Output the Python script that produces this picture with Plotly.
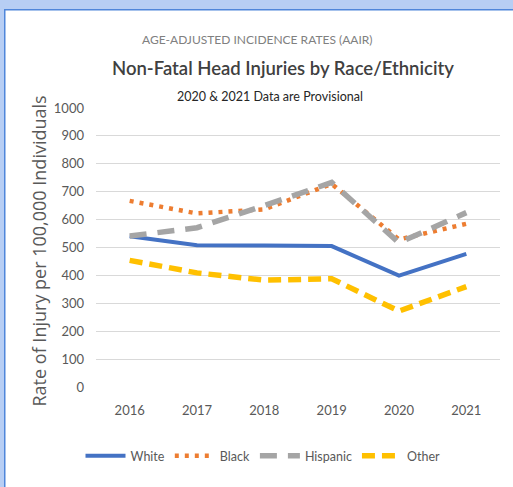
import plotly.graph_objects as go

years = ["2016", "2017", "2018", "2019", "2020", "2021"]
white = [540, 508, 507, 505, 399, 477]
black = [667, 622, 637, 728, 529, 585]
hispanic = [541, 571, 650, 733, 517, 625]
other = [454, 409, 383, 388, 272, 360]
y_ticks = [0, 100, 200, 300, 400, 500, 600, 700, 800, 900, 1000]

W, H = 513, 487
L, R, T, B = 96, 13, 108, 100
PW, PH = W - L - R, H - T - B

def px(xp):
    return (xp - L) / PW

def py(yp):
    return (H - B - yp) / PH

FONT = "Lato, Liberation Sans, sans-serif"
GRAY = "#595959"

fig = go.Figure()
fig.add_trace(go.Scatter(x=years, y=white, name="White", mode="lines",
                         line=dict(color="#4472C4", width=4)))
fig.add_trace(go.Scatter(x=years, y=black, name="Black", mode="lines",
                         line=dict(color="#ED7D31", width=4.5, dash="4px,6px")))
fig.add_trace(go.Scatter(x=years, y=hispanic, name="Hispanic", mode="lines",
                         line=dict(color="#A5A5A5", width=5.5, dash="17px,11px")))
fig.add_trace(go.Scatter(x=years, y=other, name="Other", mode="lines",
                         line=dict(color="#FFC000", width=5.5, dash="13px,7px")))

text_annotations = [
    dict(text="AGE-ADJUSTED INCIDENCE RATES (AAIR)", x=px(257.5), y=py(40),
         font=dict(family=FONT, size=12, color="#808080")),
    dict(text="Non-Fatal Head Injuries by Race/Ethnicity", x=px(283), y=py(68),
         font=dict(family=FONT, size=18.5, color="#404040", weight=600)),
    dict(text="2020 &amp; 2021 Data are Provisional", x=px(270), y=py(96),
         font=dict(family=FONT, size=12.5, color="#262626")),
    dict(text="Rate of Injury per 100,000 Individuals", x=px(38), y=py(251.5),
         textangle=-90,
         font=dict(family="Open Sans, DejaVu Sans, sans-serif", size=18, color=GRAY)),
]
for a in text_annotations:
    a.update(xref="paper", yref="paper", showarrow=False,
             xanchor="center", yanchor="middle")

BAND = "#B7CEF4"
EDGE = "#4F86DA"

shapes = [
    dict(type="rect", xref="paper", yref="paper", x0=px(0), x1=px(W), y0=py(0), y1=py(9),
         fillcolor=BAND, line=dict(width=0), layer="above"),
    dict(type="rect", xref="paper", yref="paper", x0=px(0), x1=px(4), y0=py(0), y1=py(H),
         fillcolor=BAND, line=dict(width=0), layer="above"),
    dict(type="rect", xref="paper", yref="paper", x0=px(4), x1=px(W), y0=py(9), y1=py(10.5),
         fillcolor=EDGE, line=dict(width=0), layer="above"),
    dict(type="rect", xref="paper", yref="paper", x0=px(4), x1=px(5.5), y0=py(9), y1=py(H),
         fillcolor=EDGE, line=dict(width=0), layer="above"),
]

fig.update_layout(
    width=W, height=H,
    margin=dict(l=L, r=R, t=T, b=B, pad=0),
    paper_bgcolor="white", plot_bgcolor="white",
    annotations=text_annotations, shapes=shapes,
    legend=dict(orientation="h", x=px(263), y=py(456), xanchor="center", yanchor="middle",
                font=dict(family=FONT, size=12.5, color=GRAY), itemwidth=40,
                bgcolor="rgba(0,0,0,0)"),
    xaxis=dict(type="category", range=[-0.5, 5.5], showgrid=False, zeroline=False,
               showline=False, ticks="", tickfont=dict(family=FONT, size=13, color=GRAY),
               ticklabelstandoff=14),
    yaxis=dict(range=[0, 1000], tickvals=y_ticks, showgrid=True, gridcolor="#D9D9D9",
               gridwidth=1, zeroline=False, showline=False, ticks="",
               tickfont=dict(family=FONT, size=13, color=GRAY), ticklabelstandoff=11),
)

fig.write_html("out.html", config={"displayModeBar": False},
               post_script="document.body.style.margin='0';")
